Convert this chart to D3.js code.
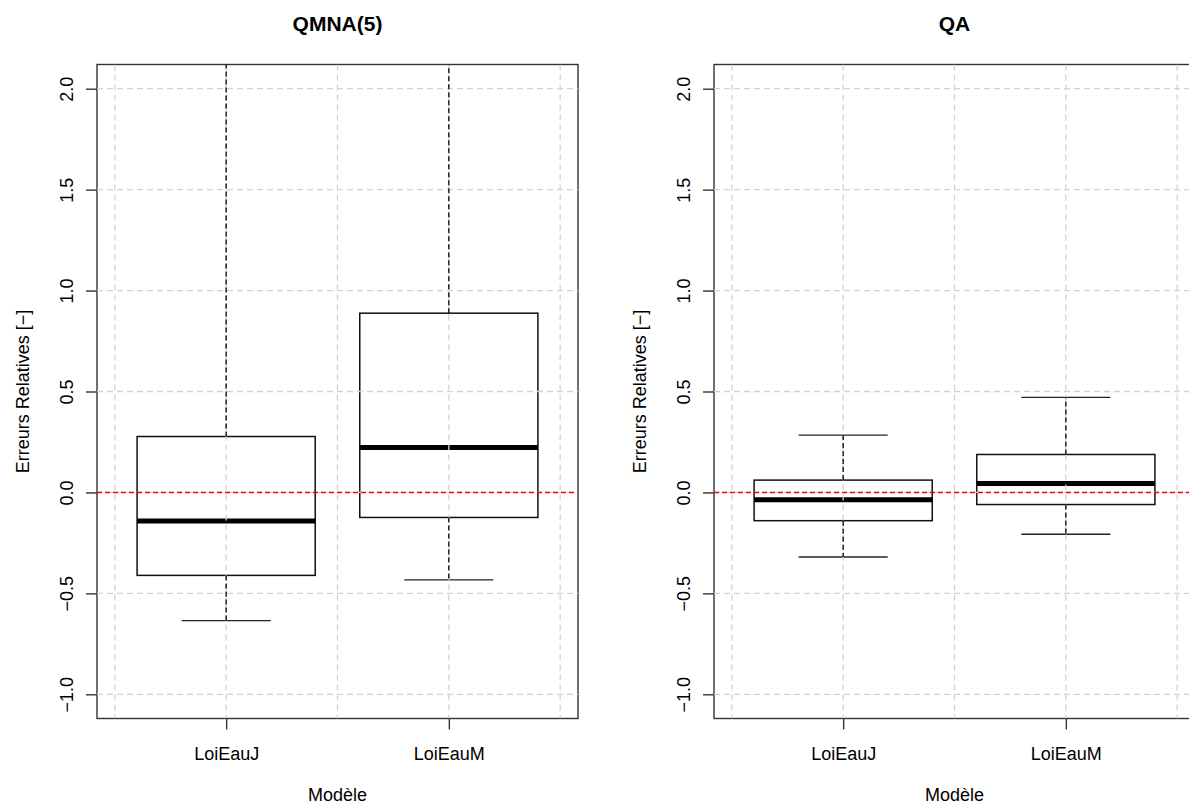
<!DOCTYPE html>
<html>
<head>
<meta charset="utf-8">
<script src="https://cdn.jsdelivr.net/npm/d3@7"></script>
<style>
  html, body { margin: 0; padding: 0; background: #fff; }
  svg { display: block; }
  text { font-family: "Liberation Sans", Arial, Helvetica, sans-serif; fill: #000; }
</style>
</head>
<body>
<svg id="chart" width="1189" height="807"></svg>
<script>
// ---- data ----
const categories = ["LoiEauJ", "LoiEauM"];
const panelTitles = ["QMNA(5)", "QA"];
const yTicks = [-1.0, -0.5, 0.0, 0.5, 1.0, 1.5, 2.0];
const xGrid = [0.5, 1, 1.5, 2, 2.5];

// QMNA(5) panel
const qmnaLower  = [-0.635, -0.433];
const qmnaQ1     = [-0.411, -0.124];
const qmnaMedian = [-0.142,  0.222];
const qmnaQ3     = [ 0.277,  0.888];
const qmnaUpper  = [ 3.10,   3.40];

// QA panel
const qaLower  = [-0.320, -0.207];
const qaQ1     = [-0.140, -0.060];
const qaMedian = [-0.036,  0.044];
const qaQ3     = [ 0.061,  0.188];
const qaUpper  = [ 0.284,  0.471];

const panels = [
  { title: panelTitles[0], lower: qmnaLower, q1: qmnaQ1, med: qmnaMedian, q3: qmnaQ3, upper: qmnaUpper },
  { title: panelTitles[1], lower: qaLower, q1: qaQ1, med: qaMedian, q3: qaQ3, upper: qaUpper }
];

// ---- layout ----
const svg = d3.select("#chart");
svg.append("rect").attr("width", 1189).attr("height", 807).attr("fill", "#fff");

const panelOffset = 617;
const plotLeft = 97, plotWidth = 481, plotTop = 64.5, plotBottom = 718.5;

const y = d3.scaleLinear().domain([-1.12, 2.12]).range([plotBottom, plotTop]);
const fmt = v => (v < 0 ? "\u2212" : "") + Math.abs(v).toFixed(1);

panels.forEach((p, i) => {
  const x0 = plotLeft + i * panelOffset;
  const x = d3.scaleLinear().domain([0.42, 2.58]).range([x0, x0 + plotWidth]);
  const g = svg.append("g");
  const clipId = "clip" + i;
  svg.append("defs").append("clipPath").attr("id", clipId)
    .append("rect").attr("x", x0).attr("y", plotTop).attr("width", plotWidth).attr("height", plotBottom - plotTop);

  const plot = g.append("g").attr("clip-path", `url(#${clipId})`);
  const half = 0.4, staple = 0.2;
  const idx = categories.map((c, k) => k);

  // staples
  plot.selectAll(".su").data(idx).join("line")
    .attr("x1", k => x(k + 1 - staple)).attr("x2", k => x(k + 1 + staple))
    .attr("y1", k => y(p.upper[k])).attr("y2", k => y(p.upper[k]))
    .attr("stroke", "#222").attr("stroke-width", 1.4);
  plot.selectAll(".sl").data(idx).join("line")
    .attr("x1", k => x(k + 1 - staple)).attr("x2", k => x(k + 1 + staple))
    .attr("y1", k => y(p.lower[k])).attr("y2", k => y(p.lower[k]))
    .attr("stroke", "#222").attr("stroke-width", 1.4);
  // boxes
  plot.selectAll(".box").data(idx).join("rect")
    .attr("x", k => x(k + 1 - half)).attr("width", k => x(k + 1 + half) - x(k + 1 - half))
    .attr("y", k => y(p.q3[k])).attr("height", k => y(p.q1[k]) - y(p.q3[k]))
    .attr("fill", "none").attr("stroke", "#111").attr("stroke-width", 1.5);
  // medians
  plot.selectAll(".med").data(idx).join("line")
    .attr("x1", k => x(k + 1 - half)).attr("x2", k => x(k + 1 + half))
    .attr("y1", k => y(p.med[k])).attr("y2", k => y(p.med[k]))
    .attr("stroke", "#000").attr("stroke-width", 5);

  // frame
  g.append("rect").attr("x", x0).attr("y", plotTop).attr("width", plotWidth).attr("height", plotBottom - plotTop)
    .attr("fill", "none").attr("stroke", "#333").attr("stroke-width", 1.4);

  // grid
  const grid = g.append("g").attr("clip-path", `url(#${clipId})`);
  grid.selectAll(".gx").data(xGrid).join("line")
    .attr("x1", d => x(d)).attr("x2", d => x(d)).attr("y1", plotTop).attr("y2", plotBottom)
    .attr("stroke", "#d3d3d3").attr("stroke-width", 1.3).attr("stroke-dasharray", "6,4");
  grid.selectAll(".gy").data(yTicks).join("line")
    .attr("x1", x0).attr("x2", x0 + plotWidth).attr("y1", d => y(d)).attr("y2", d => y(d))
    .attr("stroke", "#d3d3d3").attr("stroke-width", 1.3).attr("stroke-dasharray", "6,4");

  // whiskers (dashed, drawn over grid so they stay visible)
  const wh = g.append("g").attr("clip-path", `url(#${clipId})`);
  wh.selectAll(".wu").data(idx).join("line")
    .attr("x1", k => x(k + 1)).attr("x2", k => x(k + 1))
    .attr("y1", k => y(p.q3[k])).attr("y2", k => y(p.upper[k]))
    .attr("stroke", "#000").attr("stroke-width", 1.3).attr("stroke-dasharray", "5,3");
  wh.selectAll(".wl").data(idx).join("line")
    .attr("x1", k => x(k + 1)).attr("x2", k => x(k + 1))
    .attr("y1", k => y(p.q1[k])).attr("y2", k => y(p.lower[k]))
    .attr("stroke", "#000").attr("stroke-width", 1.3).attr("stroke-dasharray", "5,3");

  // red zero line
  wh.append("line").attr("x1", x0).attr("x2", x0 + plotWidth).attr("y1", y(0)).attr("y2", y(0))
    .attr("stroke", "#ff0000").attr("stroke-width", 1.4).attr("stroke-dasharray", "5,3");

  // y axis
  const ya = g.append("g").attr("transform", `translate(${x0},0)`)
    .call(d3.axisLeft(y).tickValues(yTicks).tickFormat(fmt).tickSize(11));
  ya.select(".domain").remove();
  ya.selectAll(".tick line").attr("stroke", "#333").attr("stroke-width", 1.4);
  ya.selectAll(".tick text")
    .attr("x", 0).attr("y", -24).attr("dy", 0)
    .attr("transform", "rotate(-90)")
    .attr("text-anchor", "middle")
    .style("font-size", "18px").style("font-family", "'Liberation Sans', Arial, sans-serif").attr("fill", "#000");

  // x axis
  const xa = g.append("g").attr("transform", `translate(0,${plotBottom})`)
    .call(d3.axisBottom(x).tickValues([1, 2]).tickFormat(d => categories[d - 1]).tickSize(11));
  xa.select(".domain").remove();
  xa.selectAll(".tick line").attr("stroke", "#333").attr("stroke-width", 1.4);
  xa.selectAll(".tick text").attr("y", 41).attr("dy", 0)
    .style("font-size", "18px").style("font-family", "'Liberation Sans', Arial, sans-serif").attr("fill", "#000");

  const cx = x0 + plotWidth / 2;
  // title
  g.append("text").attr("x", cx).attr("y", 31).attr("text-anchor", "middle")
    .style("font-size", "21px").style("font-weight", "bold").text(p.title);
  // x label
  g.append("text").attr("x", cx).attr("y", 801).attr("text-anchor", "middle")
    .style("font-size", "18px").text("Modèle");
  // y label
  g.append("text").attr("transform", `translate(${x0 - 68},${(plotTop + plotBottom) / 2}) rotate(-90)`)
    .attr("text-anchor", "middle").style("font-size", "18px").text("Erreurs Relatives [\u2212]");
});
</script>
</body>
</html>
